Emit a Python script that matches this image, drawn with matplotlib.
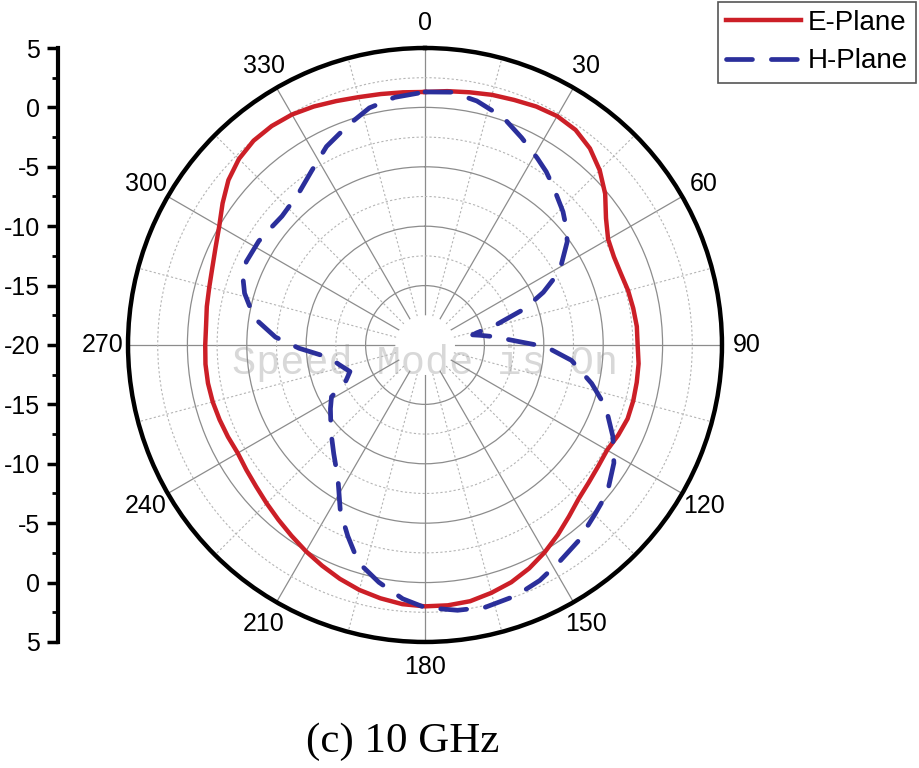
import matplotlib
matplotlib.use("Agg")
import matplotlib.pyplot as plt
import numpy as np

# E-plane pattern (deg, dB)
e_theta = list(range(0, 365, 5))
e_gain = [1.3, 1.45, 1.6, 1.8, 1.95, 2.15, 2.25, 2.1, 1.6, 0.8,
          -0.2, -1.4, -2.2, -2.45, -2.45, -2.3, -2.2, -2.1, -2.1, -1.95,
          -1.9, -1.85, -1.85, -2.05, -2.3, -2.2, -2.0, -1.7, -1.15, -0.5,
          0.15, 0.75, 1.25, 1.6, 1.9, 2.0, 2.0, 1.9, 1.65, 1.35,
          0.95, 0.5, 0.05, -0.4, -0.8, -1.15, -1.45, -1.65, -1.8, -1.7,
          -1.6, -1.5, -1.45, -1.45, -1.5, -1.5, -1.35, -1.2, -0.95, -0.55,
          0.0, 0.8, 1.6, 2.15, 2.45, 2.5, 2.4, 2.15, 1.85, 1.6,
          1.45, 1.35, 1.3]

# H-plane pattern (deg, dB)
h_theta = [0, 6, 12, 19, 25, 31, 35, 39, 46, 50, 54, 60, 63, 66, 70, 74, 77, 78,
           80, 83, 88, 90, 92, 96, 103, 109, 116, 122, 129, 135, 142, 148, 154,
           160, 167, 173, 180, 185, 191, 197, 202, 207, 213, 220, 225, 230, 236,
           241, 245, 250.5, 257, 262, 265, 268.5, 273, 279, 286, 290, 295, 302,
           307, 312, 320, 327, 333.6, 340.7, 346.8, 353, 360]
h_gain = [1.3, 1.4, 1.0, 0.25, -0.75, -1.65, -2.2, -2.85, -3.85, -4.5, -5.2,
          -6.8, -7.9, -9.1, -11.05, -13.7, -15.6, -15.9, -15.3, -14.2, -12.05,
          -10.6, -9.4, -7.6, -5.6, -3.9, -2.4, -1.25, -0.25, 0.2, 0.95, 1.45,
          2.05, 2.45, 2.65, 2.5, 2.1, 1.45, 0.35, -0.85, -2.65, -4.3, -6.55,
          -8.05, -8.9, -9.65, -10.4, -11.0, -12.6, -13.3, -12.6, -11.95, -11.0,
          -9.4, -7.4, -5.45, -4.2, -3.7, -3.4, -3.5, -3.7, -3.8, -3.4, -2.5,
          -1.35, -0.4, 0.5, 1.0, 1.3]

angle_ticks = list(range(0, 360, 30))
angle_labels = [str(a) for a in angle_ticks]
r_major = [-15, -10, -5, 0]
r_minor = [-12.5, -7.5, -2.5, 2.5]
side_pos = list(range(-25, 26, 5))
side_labels = ["5", "0", "-5", "-10", "-15", "-20", "-15", "-10", "-5", "0", "5"]

plt.rcParams['font.family'] = ['Liberation Sans', 'DejaVu Sans']

fig = plt.figure(figsize=(9.2, 7.68), dpi=100)
ax = fig.add_axes([0.1391, 0.1641, 0.6457, 0.7734], projection='polar')
ax.set_theta_zero_location('N')
ax.set_theta_direction(-1)
ax.set_rorigin(-20)
ax.set_ylim(-17.5, 5)

ax.set_xticks(np.deg2rad(angle_ticks))
ax.set_xticklabels(angle_labels, fontsize=18)
ax.set_xticks(np.deg2rad(range(15, 360, 30)), minor=True)
ax.set_yticks(r_major)
ax.set_yticks(r_minor, minor=True)
ax.set_yticklabels([])
ax.tick_params(axis='x', which='major', direction='in', length=8, width=2.5, pad=11)
ax.tick_params(axis='x', which='minor', direction='in', length=5, width=2)
ax.tick_params(axis='y', which='both', length=0)

ax.xaxis.grid(True, which='major', color='#8c8c8c', lw=0.9, ls='-')
ax.xaxis.grid(True, which='minor', color='#b5b5b5', lw=0.8, ls=(0, (2, 2)))
ax.yaxis.grid(True, which='major', color='#8c8c8c', lw=0.9, ls='-')
ax.yaxis.grid(True, which='minor', color='#b5b5b5', lw=0.8, ls=(0, (2, 2)))
ax.spines['polar'].set_linewidth(3.2)
ax.spines['inner'].set_visible(False)
ax.spines['inner'].set_color('none')
ax.patch.set_edgecolor('none')

ax.text(0.5, 0.47, 'Speed Mode is On', transform=ax.transAxes, ha='center',
        va='center', fontsize=29, family='Liberation Mono', color='#d8d8d8',
        zorder=1)

ax.plot(np.deg2rad(e_theta), e_gain, color='#cc1f27', lw=3.2, label='E-Plane',
        zorder=3)
ax.plot(np.deg2rad(h_theta), h_gain, color='#2b2f9b', lw=3.4, ls=(0, (5.5, 4)),
        dash_capstyle='round', label='H-Plane', zorder=4)

leg = fig.legend(loc='upper right', bbox_to_anchor=(0.996, 0.998), fontsize=20,
                 fancybox=False, edgecolor='#555555', framealpha=1,
                 handlelength=2.7, handletextpad=0.25, borderpad=0.3,
                 labelspacing=0.45, borderaxespad=0)
leg.get_frame().set_linewidth(1.2)

# side scale
ax2 = fig.add_axes([0.063, 0.1641, 0.0001, 0.7734])
for s in ['top', 'right', 'bottom']:
    ax2.spines[s].set_visible(False)
ax2.spines['left'].set_linewidth(3)
ax2.set_ylim(-25, 25)
ax2.set_xticks([])
ax2.set_yticks(side_pos)
ax2.set_yticklabels(side_labels, fontsize=18)
ax2.set_yticks(np.arange(-22.5, 25, 5), minor=True)
ax2.tick_params(axis='y', which='major', length=8, width=2.5, pad=5)
ax2.tick_params(axis='y', which='minor', length=4, width=2)
ax2.patch.set_visible(False)

fig.text(0.4375, 0.034, '(c) 10 GHz', family='Liberation Serif', fontsize=31,
         ha='center', va='center')

fig.savefig('out.png', dpi=100)
